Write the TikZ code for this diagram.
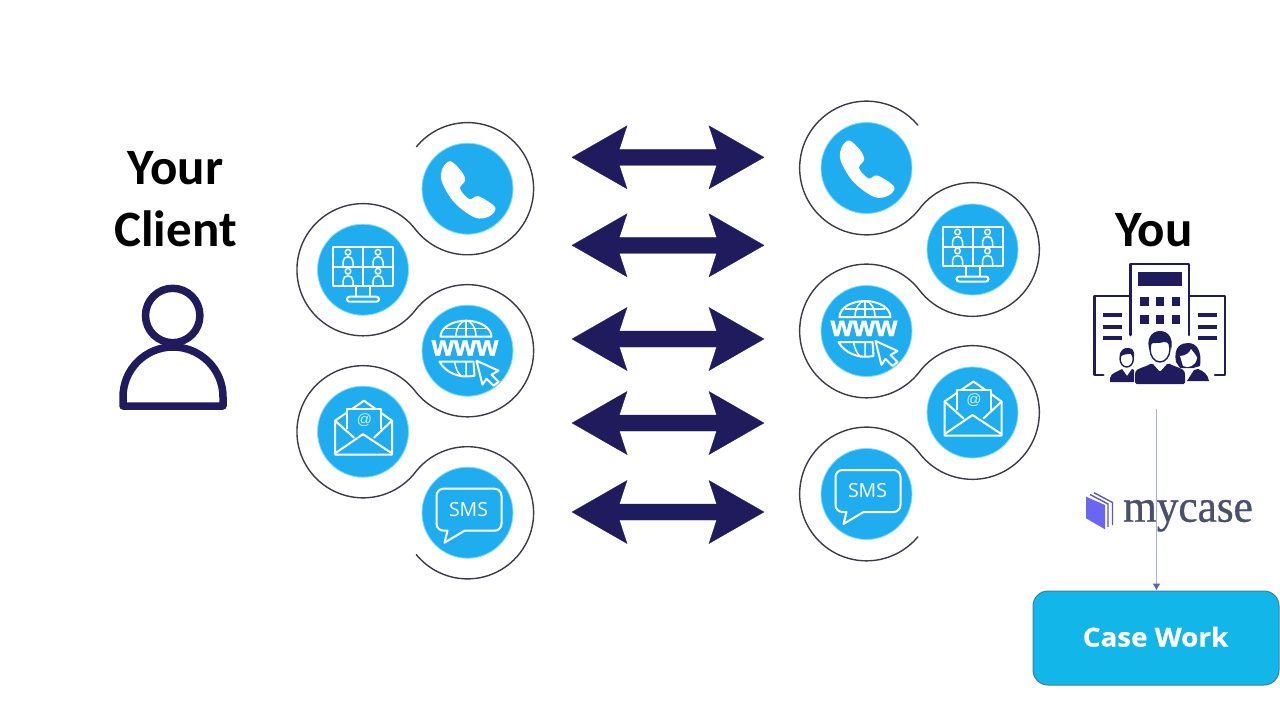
\documentclass[tikz,border=0pt]{standalone}
\usepackage{fontspec}
\usetikzlibrary{arrows.meta}
\setmainfont{Liberation Sans}
\newfontfamily\carlitofont{Carlito}
\newfontfamily\opensansfont{Open Sans}
\newfontfamily\opensansheavy[FakeBold=0.6,FakeStretch=1.07]{Open Sans Bold}
\newfontfamily\webfont[FakeBold=1.4]{Liberation Sans Bold}
\newfontfamily\serifbrand[FakeBold=0.7,FakeStretch=0.94]{Liberation Serif}
\definecolor{navy}{HTML}{1F1B5C}
\definecolor{chanblue}{HTML}{1FADEF}
\definecolor{changlow}{HTML}{7FDDFB}
\definecolor{ringgrey}{HTML}{3A3A48}
\definecolor{caseblue}{HTML}{12B6E9}
\definecolor{caseedge}{HTML}{3B8199}
\definecolor{brandgrey}{HTML}{4A506A}
\definecolor{bookviolet}{HTML}{6A66F2}
\definecolor{flowline}{HTML}{A9B1DD}
\definecolor{flowhead}{HTML}{5A64B4}
\tikzset{
  chan/.style={circle,fill=chanblue,draw=changlow,line width=0.8pt,minimum size=91pt,inner sep=0pt},
  ringline/.style={draw=ringgrey,line width=1.4pt,line cap=round},
  ic/.style={draw=white,line width=2pt,line join=round,line cap=round},
  icthin/.style={draw=white,line width=1.5pt,line join=round,line cap=round},
  title/.style={anchor=base,inner sep=0pt,text=black,font=\carlitofont\bfseries\fontsize{51}{51}\selectfont},
  dbl/.style={fill=navy,draw=navy,line width=0.3pt,line join=miter},
  nv/.style={draw=navy,line width=2.6pt,line join=round,line cap=round},
}
\newcommand{\iconphone}[1]{\begin{scope}[shift={(#1)}]
  \fill[white] plot[smooth cycle,tension=0.55] coordinates {(-17.3,-27.5) (-6.5,-18) (-2.3,-8.5) (-7.5,0) (2,10.5) (11,7.5) (27.7,18.7) (22,27.5) (7.7,29) (-13,14) (-25.7,-7) (-25,-20.3)};
\end{scope}}
\newcommand{\iconvideo}[1]{\begin{scope}[shift={(#1)}]
  \draw[ic] (-30,-23) rectangle (30,16);
  \draw[ic] (0,-23)--(0,16) (-30,-3)--(30,-3);
  \draw[ic] (-7,16)--(-7,27) (7,16)--(7,27);
  \draw[ic,rounded corners=2.5pt] (-16,27) rectangle (16,32);
  \foreach \x/\y in {-15/-3,15/-3,-15/16,15/16}{
    \draw[icthin] (\x,\y-14.5) circle[radius=2.8];
    \draw[icthin] (\x-5,\y) -- (\x-5,\y-5) arc[start angle=180,end angle=360,radius=5] -- (\x+5,\y);
  }
\end{scope}}
\newcommand{\iconweb}[2]{\begin{scope}[shift={(#1)}]
  \draw[ic] (-27,-14) arc[start angle=180,end angle=360,x radius=25.5,y radius=16] -- cycle;
  \draw[icthin] (-11.5,-14) arc[start angle=180,end angle=360,x radius=10,y radius=16];
  \draw[icthin] (-1.5,-14)--(-1.5,-30) (-21,-22)--(18,-22);
  \draw[ic] (-28,11) -- (6,11) -- (7,25) .. controls (-8,28) and (-22,22) .. (-28,11);
  \draw[icthin] (-13,11) .. controls (-12,18) and (-9,23) .. (-6,26) (-1.5,11)--(-1.5,26);
  \node[inner sep=0pt,anchor=base,text=white,font=\webfont\fontsize{28.5}{28.5}\selectfont] (#2www) at (-2.5,5) {www};
  \draw[ic,fill=chanblue] (9,10) -- (31,20) -- (24,24) -- (31,31) -- (26,35) -- (19,28) -- (15,34) -- cycle;
\end{scope}}
\newcommand{\iconmail}[2]{\begin{scope}[shift={(#1)}]
  \draw[ic] (-28,-11) -- (1,-31) -- (29,-11) -- (29,23) -- (-28,23) -- cycle;
  \draw[ic] (-28,-11) -- (-9,6) (29,-11) -- (11,6);
  \draw[ic,fill=chanblue] (-16,-3) -- (-16,-23) -- (18,-23) -- (18,-3);
  \draw[ic] (-27,21) -- (0,2.5) -- (28,21);
  \node[inner sep=0pt,text=changlow!45!white,font=\fontsize{15}{15}\selectfont] (#2at) at (1.5,-12) {@};
\end{scope}}
\newcommand{\iconsms}[2]{\begin{scope}[shift={(#1)}]
  \draw[ic] (-24,-24) -- (27,-24) arc[start angle=-90,end angle=0,radius=7] -- (34,11) arc[start angle=0,end angle=90,radius=7] -- (-3,18) -- (-23,30) -- (-20,18) -- (-24,18) arc[start angle=90,end angle=180,radius=7] -- (-31,-17) arc[start angle=180,end angle=270,radius=7] -- cycle;
  \node[inner sep=0pt,text=white,font=\opensansfont\fontsize{19.5}{19.5}\selectfont] (#2label) at (1,-3.5) {SMS};
\end{scope}}
\newcommand{\dblarrow}[1]{\filldraw[dbl] (668,#1) ++(-96,0) -- ++(55,-31.5) -- ++(-7.7,23.5) -- ++(97.4,0) -- ++(-7.7,-23.5) -- ++(55,31.5) -- ++(-55,31.5) -- ++(7.7,-23.5) -- ++(-97.4,0) -- ++(7.7,23.5) -- cycle;}
\begin{document}
\begin{tikzpicture}[x=1pt,y=1pt,yscale=-1]
\useasboundingbox (0,0) rectangle (1280,720);
\fill[white] (0,0) rectangle (1280,720);

% left channel column
\node[chan] (lphone) at (467.5,188.7) {};
\node[chan] (lvideo) at (363,269.7) {};
\node[chan] (lweb) at (467.5,350.7) {};
\node[chan] (lmail) at (363,431.7) {};
\node[chan] (lsms) at (467.5,512.7) {};
\draw[ringline] (lphone.center) ++(-140.5:66.1)
  arc[start angle=-140.5,end angle=142.2,radius=66.1]
  arc[start angle=-37.8,end angle=-322.2,radius=66.1]
  arc[start angle=-142.2,end angle=142.2,radius=66.1]
  arc[start angle=-37.8,end angle=-322.2,radius=66.1]
  arc[start angle=-142.2,end angle=140.7,radius=66.1];
\iconphone{467.5,188.7}
\iconvideo{363,269.7}
\iconweb{467.5,350.7}{l}
\iconmail{363,431.7}{l}
\iconsms{467.5,512.7}{l}

% right channel column
\node[chan] (rphone) at (866.5,168) {};
\node[chan] (rvideo) at (972.5,249.5) {};
\node[chan] (rweb) at (866.5,331) {};
\node[chan] (rmail) at (972.5,412.5) {};
\node[chan] (rsms) at (866.5,494) {};
\draw[ringline] (rphone.center) ++(-39.9:66.85)
  arc[start angle=-39.9,end angle=-322.44,radius=66.85]
  arc[start angle=-142.44,end angle=142.44,radius=66.85]
  arc[start angle=-37.56,end angle=-322.44,radius=66.85]
  arc[start angle=-142.44,end angle=142.44,radius=66.85]
  arc[start angle=-37.56,end angle=-320.1,radius=66.85];
\iconphone{866.5,168}
\iconvideo{972.5,249.5}
\iconweb{866.5,331}{r}
\iconmail{972.5,412.5}{r}
\iconsms{866.5,494}{r}

% double arrows
\dblarrow{157.3}
\dblarrow{245.3}
\dblarrow{339}
\dblarrow{423}
\dblarrow{512}

% client
\node[title] (yourtext) at (175.5,184) {Your};
\node[title] (clienttext) at (175.5,246) {Client};
\draw[navy,line width=7.5pt] (172.7,315.5) circle[radius=27.2];
\draw[navy,line width=7.5pt,line join=round] (123,406) -- (123,397) arc[start angle=180,end angle=360,radius=50] -- (223,406) -- cycle;

% you
\node[title] (youtext) at (1154,246) {You};
\draw[nv] (1130.7,335) -- (1130.7,264) -- (1189,264) -- (1189,335);
\draw[nv] (1130.7,296) -- (1094.3,296) -- (1094.3,375) -- (1103.3,375);
\draw[nv] (1189,296) -- (1225,296) -- (1225,375) -- (1215,375);
\fill[navy] (1138.3,272.3) rectangle (1181.7,286);
\foreach \x in {1140,1155.5,1171.5}
  \foreach \y in {297.3,315}
    \fill[navy] (\x,\y) rectangle ++(8.8,9);
\foreach \y in {315,326.7,337.7}{
  \fill[navy] (1103.3,\y-2) rectangle (1121.7,\y+2);
  \fill[navy] (1198.3,\y-2) rectangle (1216.5,\y+2);
}
% woman
\fill[navy] (1176,362) .. controls (1173,346) and (1182,343) .. (1188,343) .. controls (1197,343) and (1202,351) .. (1200,366) -- (1193,368) -- (1180,368) -- cycle;
\fill[white] (1180,356) .. controls (1186,356) and (1190,352) .. (1191,349) .. controls (1194,353) and (1197,356) .. (1197,358) .. controls (1196,366) and (1188,369) .. (1183,366) -- cycle;
\fill[navy] (1187,381) -- (1194,370) -- (1198,369) .. controls (1204,371) and (1208,375) .. (1209,381) -- cycle;
% left man
\draw[navy,line width=1.4pt,fill=white] (1126.7,359) ellipse[x radius=6.6,y radius=8];
\fill[navy] (1120,359) .. controls (1118,350) and (1125,347) .. (1129,348) .. controls (1134,348) and (1135,354) .. (1133.5,359) .. controls (1133,354) and (1131,353) .. (1128,354) .. controls (1124,355) and (1121,354) .. (1120,359) -- cycle;
\fill[navy] (1110,382) -- (1110,378) .. controls (1111,373) and (1117,372) .. (1122,369) -- (1127,376) -- (1132,369) -- (1134,370) -- (1134,382) -- cycle;
% centre man
\draw[white,line width=3pt,fill=white] (1160,349) ellipse[x radius=11,y radius=14];
\draw[navy,line width=1.4pt,fill=white] (1160,349) ellipse[x radius=10,y radius=13];
\fill[navy] (1149.5,350) .. controls (1146,340) and (1151,331) .. (1160,331) .. controls (1168,331) and (1174,338) .. (1171,350) .. controls (1170,344) and (1168,342) .. (1164,342) .. controls (1158,344) and (1153,342) .. (1151,344) -- cycle;
\fill[navy,rounded corners=1.5pt] (1135,384) -- (1135,373) .. controls (1137,368) and (1146,367) .. (1152,363) -- (1160,372) -- (1168,363) .. controls (1175,367) and (1183,368) .. (1185,373) -- (1185,384) -- cycle;
\fill[navy] (1158,371) -- (1162,371) -- (1163,379) -- (1157,379) -- cycle;

% mycase
\node[anchor=base,inner sep=0pt,text=brandgrey,font=\serifbrand\fontsize{46}{46}\selectfont] (brand) at (1188,521.7) {mycase};
\fill[bookviolet] (1086,496.7) -- (1105,505) -- (1105,529.3) -- (1086,518.3) -- cycle;
\draw[bookviolet!85!black,line width=1.4pt] (1090,494.5) -- (1108,504) -- (1108,527);
\draw[bookviolet!85!black,line width=1.4pt] (1094,492.7) -- (1112.5,502.5) -- (1112.5,525);

% case work
\node[draw=caseedge,fill=caseblue,line width=1pt,rounded corners=15pt,minimum width=246pt,minimum height=94pt,inner sep=0pt] (casebox) at (1156,638) {};
\node[anchor=base,inner sep=0pt,text=white,font=\opensansheavy\fontsize{26}{26}\selectfont] (casetext) at (1155.5,646.5) {Case Work};
\coordinate (yourfoot) at (1156.5,409);
\draw[flowline,line width=1.1pt,-{Latex[length=7pt,width=8pt,flowhead]}] (yourfoot) -- (casebox.north -| yourfoot);
\end{tikzpicture}
\end{document}
